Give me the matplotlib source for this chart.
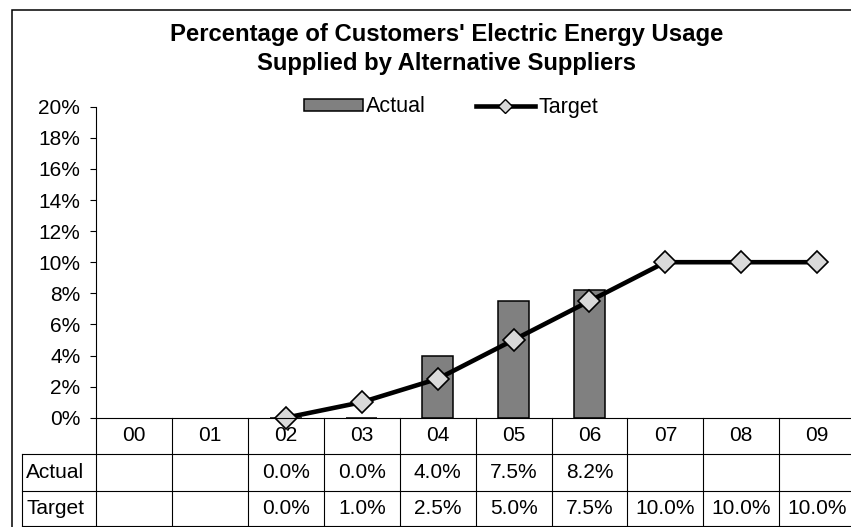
import matplotlib
matplotlib.use("Agg")
import matplotlib.pyplot as plt
from matplotlib.patches import Rectangle, Patch
from matplotlib.lines import Line2D


years = ["00", "01", "02", "03", "04", "05", "06", "07", "08", "09"]
actual = [None, None, 0.0, 0.0, 4.0, 7.5, 8.2, None, None, None]
target = [None, None, 0.0, 1.0, 2.5, 5.0, 7.5, 10.0, 10.0, 10.0]
row_labels = ["Actual", "Target"]
title_lines = ["Percentage of Customers' Electric Energy Usage",
               "Supplied by Alternative Suppliers"]

W, H = 851, 527
FS = 15

plt.rcParams["font.family"] = ["Liberation Sans", "DejaVu Sans"]


def fx(px):
  """pixel x -> figure fraction"""
  return px / W


def fy(py):
  """pixel y (from top) -> figure fraction"""
  return 1 - py / H


fig = plt.figure(figsize=(W / 100, H / 100), dpi=100)

# plot area (pixel edges)
left, right, top, bottom = 96.3, 855.0, 106.7, 417.7
ax = fig.add_axes([fx(left), fy(bottom), fx(right - left), (bottom - top) / H])

xs = list(range(len(years)))
bar_x = [x for x, v in zip(xs, actual) if v is not None]
bar_v = [v / 100 for v in actual if v is not None]
ax.bar(bar_x, bar_v, width=0.41, color="#808080", edgecolor="black", linewidth=1.1, zorder=2)

line_x = [x for x, v in zip(xs, target) if v is not None]
line_v = [v / 100 for v in target if v is not None]
ax.plot(line_x, line_v, color="black", linewidth=3.3, marker="D", markersize=11,
        markerfacecolor="#D9D9D9", markeredgecolor="black", markeredgewidth=1.2,
        zorder=3, clip_on=False)

ax.set_xlim(-0.5, len(years) - 0.5)
ax.set_ylim(0, 0.20)
ax.set_yticks([i / 100 for i in range(0, 21, 2)])
ax.set_yticklabels([f"{i}%" for i in range(0, 21, 2)], fontsize=FS)
ax.tick_params(axis="y", length=4.3, width=0.8, pad=7.2, direction="out")
ax.set_xticks([])
for side in ["top", "right"]:
  ax.spines[side].set_visible(False)
for side in ["left", "bottom"]:
  ax.spines[side].set_linewidth(0.8)
  ax.spines[side].set_zorder(4)
ax.patch.set_alpha(0)

# data table below the plot
t_left, t_bottom = 21.7, 525.7
step = (right - left) / len(years)
tab = fig.add_axes([fx(t_left), fy(t_bottom), fx(right - t_left), (t_bottom - bottom) / H])
tab.set_xlim(-0.5 - (left - t_left) / step, len(years) - 0.5)
tab.set_ylim(t_bottom - bottom, 0)
tab.axis("off")
row_edges = [0, 454 - bottom, 491 - bottom, t_bottom - bottom]
lc = dict(color="black", linewidth=0.8, clip_on=False)
x0 = -0.5 - (left - t_left) / step
for i in range(len(years) + 1):
  tab.plot([i - 0.5, i - 0.5], [0, row_edges[-1]], **lc)
tab.plot([x0, x0], [row_edges[1], row_edges[-1]], **lc)
for y in row_edges[1:]:
  tab.plot([x0, len(years) - 0.5], [y, y], **lc)

for i, yr in enumerate(years):
  tab.text(i, (row_edges[0] + row_edges[1]) / 2, yr, ha="center", va="center", fontsize=FS)
for r, (name, vals) in enumerate(zip(row_labels, [actual, target])):
  yc = (row_edges[r + 1] + row_edges[r + 2]) / 2
  tab.text(x0 + 0.06, yc, name, ha="left", va="center", fontsize=FS)
  for i, v in enumerate(vals):
    if v is not None:
      tab.text(i, yc, f"{v:.1f}%", ha="center", va="center", fontsize=FS)

# title
fig.text(fx(447), fy(40.7), title_lines[0], ha="center", va="baseline", fontsize=17.2, fontweight="bold")
fig.text(fx(447), fy(70), title_lines[1], ha="center", va="baseline", fontsize=17.2, fontweight="bold")

# legend
handles = [Patch(facecolor="#808080", edgecolor="black", linewidth=1.1),
           Line2D([], [], color="black", linewidth=3.3, marker="D", markersize=7,
                  markerfacecolor="#D9D9D9", markeredgecolor="black")]
fig.legend(handles, row_labels, loc="center", bbox_to_anchor=(fx(451), fy(107)), ncol=2,
           frameon=False, fontsize=15.5, handlelength=2.75, handleheight=0.5,
           handletextpad=0.15, columnspacing=2.3, borderpad=0)

# outer chart frame
fig.patches.append(Rectangle((fx(11.7), -0.1), 1.2, fy(10) + 0.1, transform=fig.transFigure,
                             fill=False, edgecolor="black", linewidth=1.1))

fig.savefig("out.png", dpi=100)
